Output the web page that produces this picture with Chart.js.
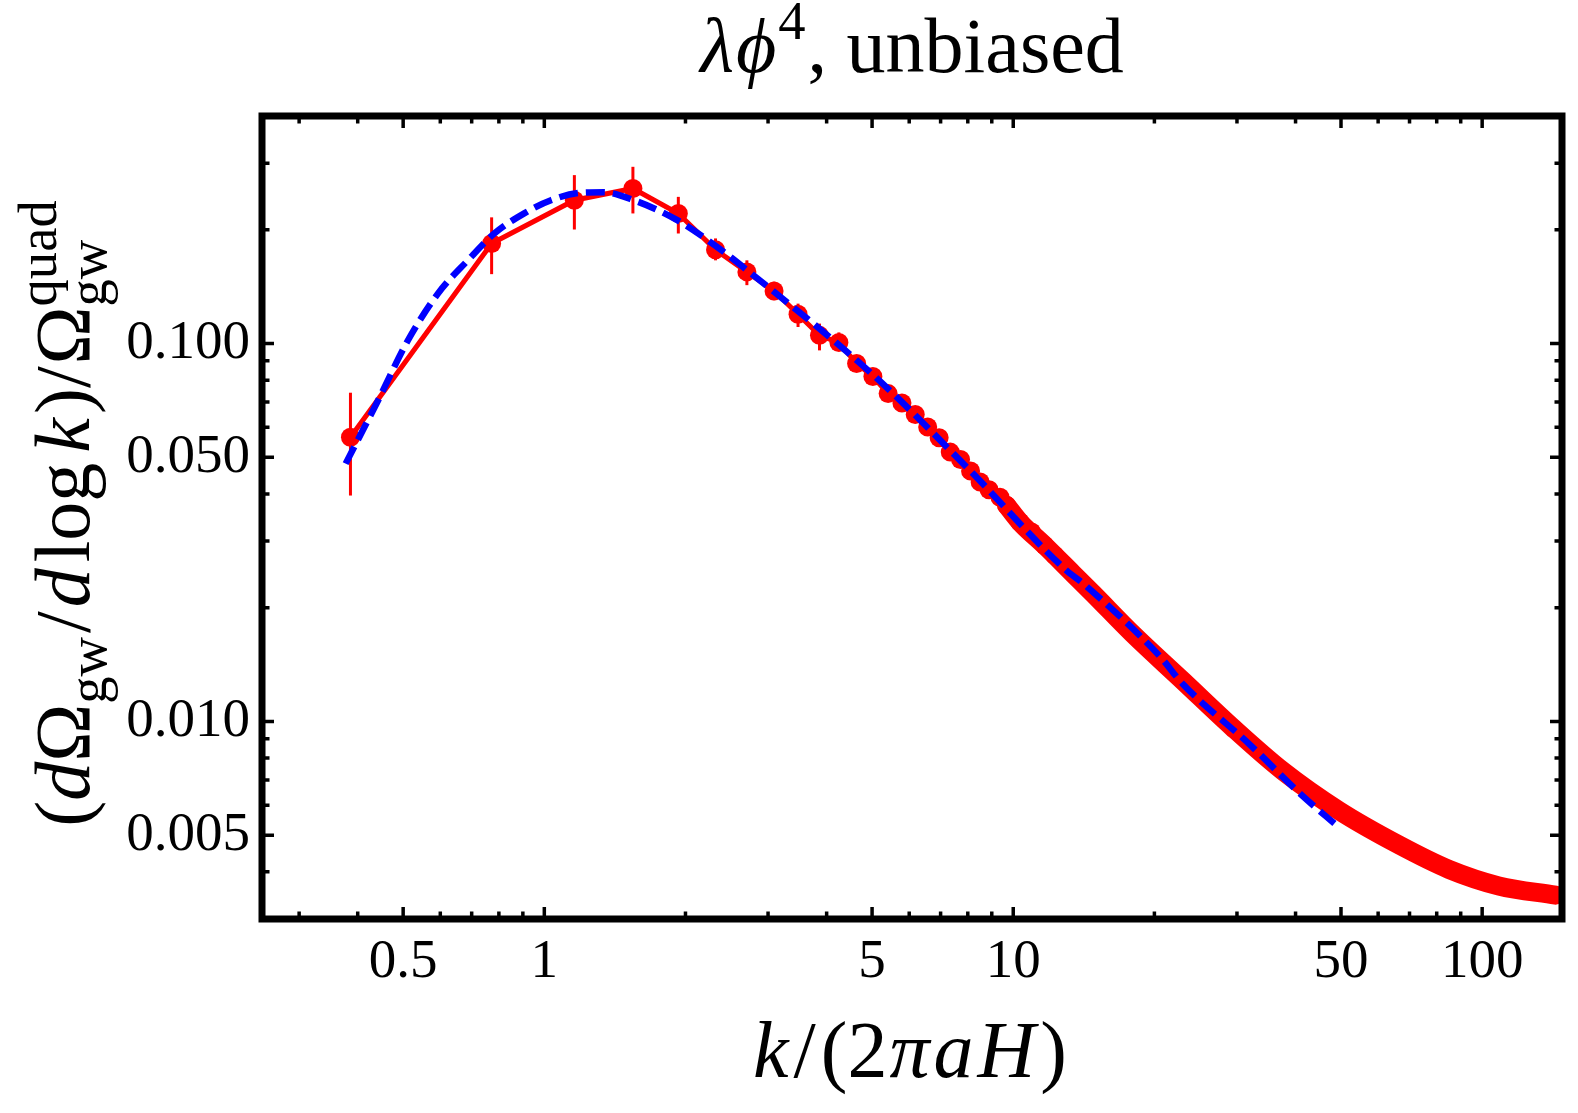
<!DOCTYPE html>
<html>
<head>
<meta charset="utf-8">
<script src="https://cdn.jsdelivr.net/npm/chart.js@4.4.1/dist/chart.umd.min.js"></script>
<style>
  html, body { margin: 0; padding: 0; background: #fff; }
  #wrap { width: 1578px; height: 1113px; }
</style>
</head>
<body>
<div id="wrap"><canvas id="c" width="1578" height="1113"></canvas></div>
<script>
// -------------------------------
// DATA
// -------------------------------
// lattice bins with markers
const kLat = [0.386, 0.772, 1.159, 1.545, 1.931, 2.318, 2.704, 3.090, 3.476, 3.862,
              4.248, 4.634, 5.02, 5.41, 5.79, 6.18, 6.57, 6.95, 7.34, 7.72,
              8.11, 8.50, 8.88, 9.37, 9.68, 10.33, 10.94, 11.67, 12.26];
const vLat = [0.0565, 0.1839, 0.2394, 0.2572, 0.2209, 0.1770, 0.1547, 0.1377, 0.1195, 0.1051,
              0.1006, 0.0885, 0.0818, 0.0737, 0.0696, 0.0649, 0.0601, 0.0563, 0.0516, 0.0493,
              0.0460, 0.0430, 0.0410, 0.0392, 0.0373, 0.0337, 0.0317, 0.0292, 0.0275];
// error bars (only the first bins show them)
const errLo = [0.0396, 0.1526, 0.2003, 0.2209, 0.1955, 0.166, 0.1427, 0.1302, 0.1106, 0.0959, 0.096];
const errHi = [0.0741, 0.2157, 0.2790, 0.2935, 0.2444, 0.1897, 0.166, 0.1457, 0.1275, 0.1129, 0.107];

// dense high-k part, markers merge into a band
const kTail = [9.68, 10.33, 11.67, 13.41, 14.79, 17.99, 22.99, 29.37, 37.52, 49.54, 66.46, 84.9, 108.5, 143.4];
const vTail = [0.0373, 0.0337, 0.0292, 0.0246, 0.0218, 0.01703, 0.01281, 0.00963, 0.00740, 0.00580, 0.00471, 0.00406, 0.00367, 0.00347];

// blue dashed fit
const kFit = [0.377, 0.442, 0.512, 0.593, 0.687, 0.782, 0.906, 1.033, 1.196, 1.341, 1.553, 1.921, 2.338, 2.707,
              5.035, 7.955, 12.98, 14.08, 20.51, 22.99, 31.87, 41.39, 49.54];
const vFit = [0.0481, 0.0707, 0.102, 0.1355, 0.166, 0.1954, 0.221, 0.2394, 0.2505, 0.2512, 0.2394, 0.2121, 0.180, 0.1563,
              0.0824, 0.0471, 0.0251, 0.0232, 0.0149, 0.01256, 0.00871, 0.00635, 0.00524];

// ticks
const xMajor = [0.5, 1, 5, 10, 50, 100];
const xLabels = ['0.5', '1', '5', '10', '50', '100'];
const xMinor = [0.3, 0.4, 0.6, 0.7, 0.8, 0.9, 2, 3, 4, 6, 7, 8, 9, 20, 30, 40, 60, 70, 80, 90];
const yMajor = [0.005, 0.01, 0.05, 0.1];
const yLabels = ['0.005', '0.010', '0.050', '0.100'];
const yMinor = [0.003, 0.004, 0.006, 0.007, 0.008, 0.009, 0.02, 0.03, 0.04, 0.06, 0.07, 0.08, 0.09, 0.2, 0.3];

const SERIF = '"Liberation Serif", "DejaVu Serif", serif';

// -------------------------------
// RICH TEXT (italic, sub/sup)
// -------------------------------
function partFont(p, size) {
  const s = (p.sup || p.sub || p.stack) ? size * 0.7 : size;
  return (p.it ? 'italic ' : '') + s + 'px ' + SERIF;
}

function drawRich(ctx, parts, x, y, size) {
  let total = 0;
  parts.forEach(p => {
    ctx.font = partFont(p, size);
    if (p.stack) {
      p.w = Math.max(ctx.measureText(p.t).width, ctx.measureText(p.stack).width);
    } else {
      p.w = ctx.measureText(p.t).width;
    }
    p.w += (p.gap || 0);
    total += p.w;
  });
  let cx = x - total / 2;
  ctx.textBaseline = 'alphabetic';
  ctx.textAlign = 'left';
  parts.forEach(p => {
    ctx.font = partFont(p, size);
    if (p.stack) {
      ctx.fillText(p.t, cx, y - size * 0.42);
      ctx.fillText(p.stack, cx, y + size * 0.22);
    } else if (p.sup) {
      ctx.fillText(p.t, cx, y - size * 0.42);
    } else if (p.sub) {
      ctx.fillText(p.t, cx, y + size * 0.22);
    } else {
      ctx.fillText(p.t, cx, y);
    }
    cx += p.w;
  });
}

// -------------------------------
// PLUGIN: frame, inward ticks, error bars, labels
// -------------------------------
const decor = {
  id: 'decor',
  beforeDatasetsDraw(chart) {
    const { ctx, scales: { x, y } } = chart;
    ctx.save();
    ctx.strokeStyle = '#ff0000';
    ctx.lineWidth = 3;
    errLo.forEach((lo, i) => {
      const px = x.getPixelForValue(kLat[i]);
      ctx.beginPath();
      ctx.moveTo(px, y.getPixelForValue(lo));
      ctx.lineTo(px, y.getPixelForValue(errHi[i]));
      ctx.stroke();
    });
    ctx.restore();
  },
  afterDraw(chart) {
    const { ctx, chartArea: a, scales: { x, y } } = chart;
    ctx.save();
    ctx.strokeStyle = '#000';
    ctx.lineWidth = 3.5;
    const tick = (vals, len) => {
      vals.forEach(v => {
        const px = x.getPixelForValue(v);
        ctx.beginPath();
        ctx.moveTo(px, a.bottom); ctx.lineTo(px, a.bottom - len);
        ctx.moveTo(px, a.top); ctx.lineTo(px, a.top + len);
        ctx.stroke();
      });
    };
    const tickY = (vals, len) => {
      vals.forEach(v => {
        const py = y.getPixelForValue(v);
        ctx.beginPath();
        ctx.moveTo(a.left, py); ctx.lineTo(a.left + len, py);
        ctx.moveTo(a.right, py); ctx.lineTo(a.right - len, py);
        ctx.stroke();
      });
    };
    tick(xMajor, 12); tick(xMinor, 7.5);
    tickY(yMajor, 12); tickY(yMinor, 7.5);
    ctx.lineWidth = 7;
    ctx.strokeRect(a.left, a.top, a.right - a.left, a.bottom - a.top);

    ctx.fillStyle = '#000';
    const midX = (a.left + a.right) / 2;
    // title
    drawRich(ctx, [
      { t: 'λ', it: true, gap: 2 }, { t: 'ϕ', it: true, gap: 2 }, { t: '4', sup: true, gap: 2 },
      { t: ', unbiased' }
    ], midX, 72, 78);
    // x label
    drawRich(ctx, [
      { t: 'k', it: true, gap: 5 }, { t: '/', gap: 5 }, { t: '(' }, { t: '2', gap: 2 }, { t: 'π', it: true, gap: 4 },
      { t: 'a', it: true, gap: 4 }, { t: 'H', it: true, gap: 5 }, { t: ')' }
    ], 910, 1077, 80);
    // y label (rotated)
    ctx.translate(89, (a.top + a.bottom) / 2 - 4);
    ctx.rotate(-Math.PI / 2);
    drawRich(ctx, [
      { t: '(' }, { t: 'd', it: true }, { t: 'Ω' }, { t: 'gw', sub: true, gap: 4 }, { t: '/', gap: 4 },
      { t: 'd', it: true, gap: 6 }, { t: 'log', gap: 10 }, { t: 'k', it: true, gap: 4 }, { t: ')' },
      { t: '/', gap: 2 }, { t: 'Ω' }, { t: 'quad', stack: 'gw' }
    ], 0, 0, 78);
    ctx.restore();
  }
};

// -------------------------------
// CHART
// -------------------------------
const ctx = document.getElementById('c').getContext('2d');
new Chart(ctx, {
  type: 'line',
  data: {
    datasets: [
      {
        label: 'fit',
        data: kFit.map((k, i) => ({ x: k, y: vFit[i] })),
        borderColor: '#0000ff',
        borderWidth: 6.5,
        borderDash: [19, 8],
        pointRadius: 0,
        cubicInterpolationMode: 'monotone',
        order: 0
      },
      {
        label: 'lattice',
        data: kLat.map((k, i) => ({ x: k, y: vLat[i] })),
        borderColor: '#ff0000',
        borderWidth: 5,
        pointRadius: 9.5,
        pointBackgroundColor: '#ff0000',
        pointBorderWidth: 0,
        tension: 0,
        order: 1
      },
      {
        label: 'tail',
        data: kTail.map((k, i) => ({ x: k, y: vTail[i] })),
        borderColor: '#ff0000',
        borderWidth: 19,
        borderCapStyle: 'round',
        borderJoinStyle: 'round',
        pointRadius: 0,
        cubicInterpolationMode: 'monotone',
        order: 2
      }
    ]
  },
  options: {
    responsive: false,
    animation: false,
    devicePixelRatio: 1,
    layout: { padding: { top: 116, right: 16, left: 0, bottom: 0 } },
    plugins: { legend: { display: false }, tooltip: { enabled: false }, title: { display: false } },
    scales: {
      x: {
        type: 'logarithmic',
        position: 'bottom',
        min: 0.25,
        max: 148,
        grid: { display: false, drawTicks: false },
        border: { display: false },
        afterBuildTicks(s) { s.ticks = xMajor.concat(xMinor).sort((p, q) => p - q).map(v => ({ value: v })); },
        afterFit(s) { s.height = 194; },
        ticks: {
          autoSkip: false, maxRotation: 0, padding: 11, color: '#000',
          font: { family: SERIF, size: 55 },
          callback(v) { const i = xMajor.indexOf(v); return i >= 0 ? xLabels[i] : ''; }
        }
      },
      y: {
        type: 'logarithmic',
        position: 'left',
        min: 0.003,
        max: 0.4,
        grid: { display: false, drawTicks: false },
        border: { display: false },
        afterBuildTicks(s) { s.ticks = yMajor.concat(yMinor).sort((p, q) => p - q).map(v => ({ value: v })); },
        afterFit(s) { s.width = 262; },
        ticks: {
          autoSkip: false, padding: 12, color: '#000',
          font: { family: SERIF, size: 55 },
          callback(v) { const i = yMajor.indexOf(v); return i >= 0 ? yLabels[i] : ''; }
        }
      }
    }
  },
  plugins: [decor]
});
</script>
</body>
</html>
